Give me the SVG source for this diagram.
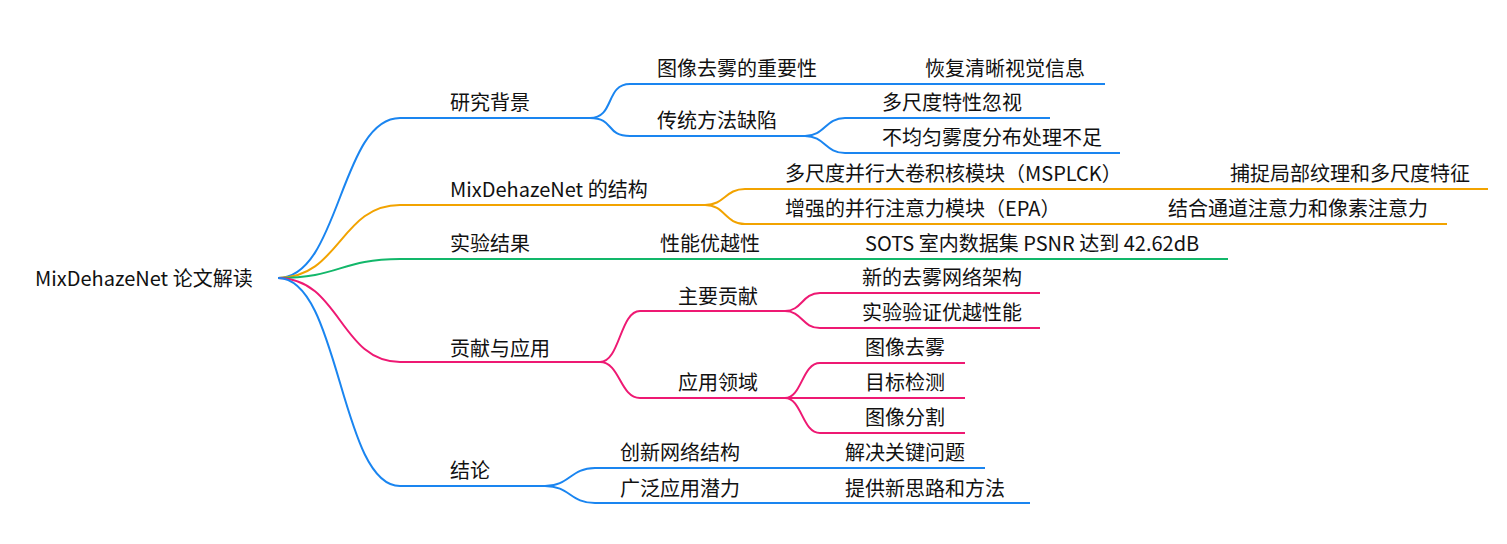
<svg xmlns="http://www.w3.org/2000/svg" width="1507" height="544" viewBox="0 0 1507 544">
<style>
text{font-family:"Noto Sans CJK SC","Noto Sans",sans-serif;font-size:20px;fill:#111}
path{fill:none;stroke-width:2}
.b{stroke:#1a85f0}.o{stroke:#f2a300}.g{stroke:#12b76a}.p{stroke:#ee1973}
</style>
<rect width="1507" height="544" fill="#fff"/>
<g id="connectors">
<path class="b" d="M278 278C340 278 340 118 400 118H590"/>
<path class="b" d="M590 118C615 118 605 84 630 84H1105"/>
<path class="b" d="M590 118C615 118 605 136 630 136H805"/>
<path class="b" d="M805 136C825 136 825 118 845 118H1050"/>
<path class="b" d="M805 136C825 136 825 153 845 153H1120"/>
<path class="o" d="M278 278C340 278 340 205 400 205H705"/>
<path class="o" d="M705 205C725 205 725 189 745 189H1488"/>
<path class="o" d="M705 205C725 205 725 224 745 224H1447"/>
<path class="g" d="M278 278C340 278 340 259 400 259H1228"/>
<path class="p" d="M278 278C340 278 340 362 400 362H600"/>
<path class="p" d="M600 362C620 362 620 311 640 311H785"/>
<path class="p" d="M600 362C620 362 620 398 640 398H785"/>
<path class="p" d="M785 311C802 311 802 293 820 293H1040"/>
<path class="p" d="M785 311C802 311 802 328 820 328H1040"/>
<path class="p" d="M785 398C802 398 802 363 820 363H965"/>
<path class="p" d="M785 398H965"/>
<path class="p" d="M785 398C802 398 802 433 820 433H965"/>
<path class="b" d="M278 278C340 278 340 486 400 486H545"/>
<path class="b" d="M545 486C570 486 570 468 595 468H985"/>
<path class="b" d="M545 486C570 486 570 503 595 503H1030"/>
</g>
<g id="root"><text x="35" y="286">MixDehazeNet 论文解读</text></g>
<g id="n1"><text x="450" y="110">研究背景</text></g>
<g id="n11"><text x="657" y="76">图像去雾的重要性</text></g>
<g id="n111"><text x="925" y="76">恢复清晰视觉信息</text></g>
<g id="n12"><text x="657" y="128">传统方法缺陷</text></g>
<g id="n121"><text x="882" y="110">多尺度特性忽视</text></g>
<g id="n122"><text x="882" y="145">不均匀雾度分布处理不足</text></g>
<g id="n2"><text x="450" y="197">MixDehazeNet 的结构</text></g>
<g id="n21"><text x="785" y="181">多尺度并行大卷积核模块（MSPLCK）</text></g>
<g id="n211"><text x="1230" y="181">捕捉局部纹理和多尺度特征</text></g>
<g id="n22"><text x="785" y="216">增强的并行注意力模块（EPA）</text></g>
<g id="n221"><text x="1168" y="216">结合通道注意力和像素注意力</text></g>
<g id="n3"><text x="450" y="251">实验结果</text></g>
<g id="n31"><text x="660" y="251">性能优越性</text></g>
<g id="n311"><text x="865" y="251">SOTS 室内数据集 PSNR 达到 42.62dB</text></g>
<g id="n4"><text x="450" y="356">贡献与应用</text></g>
<g id="n41"><text x="678" y="304">主要贡献</text></g>
<g id="n411"><text x="862" y="285">新的去雾网络架构</text></g>
<g id="n412"><text x="862" y="320">实验验证优越性能</text></g>
<g id="n42"><text x="678" y="390">应用领域</text></g>
<g id="n421"><text x="865" y="355">图像去雾</text></g>
<g id="n422"><text x="865" y="390">目标检测</text></g>
<g id="n423"><text x="865" y="425">图像分割</text></g>
<g id="n5"><text x="450" y="478">结论</text></g>
<g id="n51"><text x="620" y="460">创新网络结构</text></g>
<g id="n511"><text x="845" y="460">解决关键问题</text></g>
<g id="n52"><text x="620" y="496">广泛应用潜力</text></g>
<g id="n521"><text x="845" y="496">提供新思路和方法</text></g>
</svg>
